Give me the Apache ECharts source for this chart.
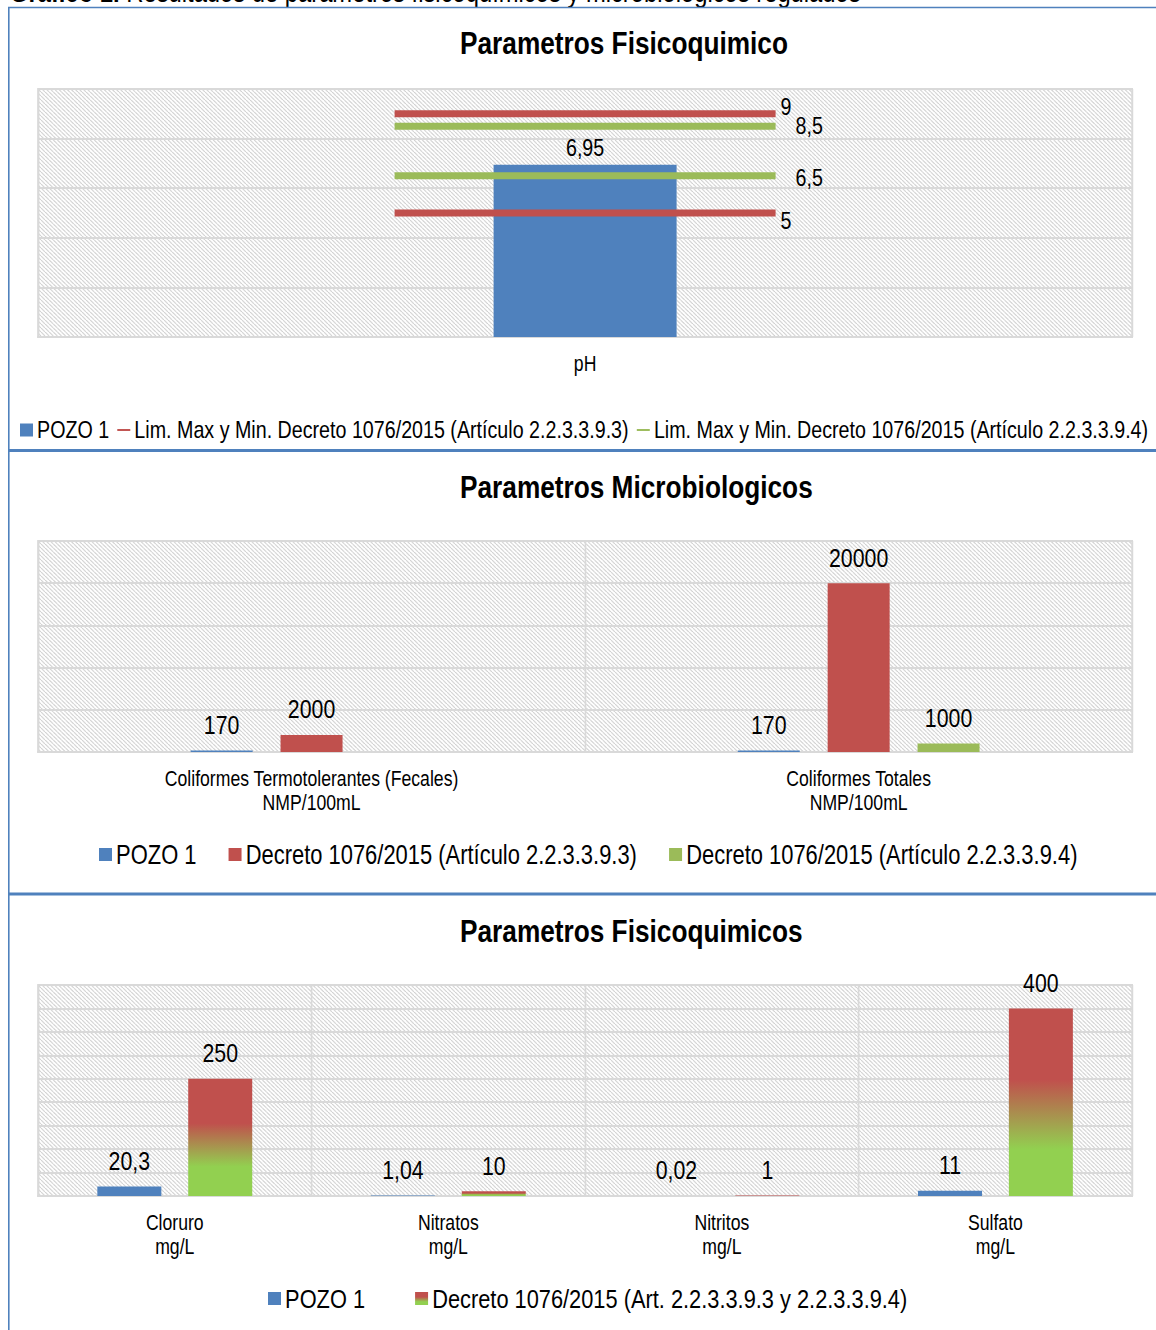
<!DOCTYPE html>
<html>
<head>
<meta charset="utf-8">
<script src="https://cdn.jsdelivr.net/npm/echarts@6/dist/echarts.min.js"></script>
<style>
  html, body { margin: 0; padding: 0; background: #fff; overflow: hidden; }
  #page { width: 1156px; height: 1330px; overflow: hidden; position: relative; }
  /* the chart is laid out wide and squeezed horizontally so that the text reads as a narrow face */
  #chart { position: absolute; left: 0; top: 0; height: 1330px; transform-origin: 0 0; }
</style>
</head>
<body>
<div id="page"><div id="chart"></div></div>
<script>
// ---- pH ----
const phCategories = ['pH'];
const phPozo = [6.95];
const phLim933 = [9, 5];      // máximo y mínimo
const phLim934 = [8.5, 6.5];  // máximo y mínimo

// ---- Microbiológicos ----
const microCategories = ['Coliformes Termotolerantes (Fecales)\nNMP/100mL', 'Coliformes Totales\nNMP/100mL'];
const microPozo = [170, 170];
const microDec933 = [2000, 20000];
const microDec934 = [null, 1000];

// ---- Fisicoquímicos ----
const fqCategories = ['Cloruro\nmg/L', 'Nitratos\nmg/L', 'Nitritos\nmg/L', 'Sulfato\nmg/L'];
const fqPozo = [20.3, 1.04, 0.02, 11];
const fqDecreto = [250, 10, 1, 400];

const N_POZO = 'POZO 1';
const N_LIM3 = 'Lim. Max y Min. Decreto 1076/2015 (Artículo 2.2.3.3.9.3)';
const N_LIM4 = 'Lim. Max y Min. Decreto 1076/2015 (Artículo 2.2.3.3.9.4)';
const N_DEC3 = 'Decreto 1076/2015 (Artículo 2.2.3.3.9.3)';
const N_DEC4 = 'Decreto 1076/2015 (Artículo 2.2.3.3.9.4)';
const N_DEC = 'Decreto 1076/2015 (Art. 2.2.3.3.9.3 y 2.2.3.3.9.4)';

// horizontal squeeze applied to the whole drawing
const SX = 0.82;
const W = 1156, H = 1330;
const px = x => x / SX;   // page x -> chart x

const chartEl = document.getElementById('chart');
chartEl.style.width = px(W) + 'px';
chartEl.style.transform = 'scaleX(' + SX + ')';

const FONT = "'Liberation Sans Narrow', 'Arial Narrow', 'Liberation Sans', Arial, sans-serif";
const BLUE = '#4F81BD', RED = '#C0504D', GREEN = '#9BBB59';
const GRIDLINE = '#d9d9d9';
const FRAME = '#4F81BD';

// diagonal hatch used as plot background
function hatch() {
  const c = document.createElement('canvas');
  c.width = 5; c.height = 4;
  const g = c.getContext('2d');
  g.fillStyle = '#ffffff'; g.fillRect(0, 0, 5, 4);
  g.strokeStyle = '#d0d0d0';
  g.lineWidth = 1.2;
  for (let k = -1; k <= 1; k++) {
    g.beginPath(); g.moveTo(k * 5, 0); g.lineTo(k * 5 + 5, 4); g.stroke();
  }
  return { image: c.toDataURL(), repeat: 'repeat' };
}
const HATCH = hatch();

const decGradient = new echarts.graphic.LinearGradient(0, 0, 0, 1, [
  { offset: 0, color: '#C0504D' },
  { offset: 0.38, color: '#C0504D' },
  { offset: 0.75, color: '#92D050' },
  { offset: 1, color: '#92D050' }
]);

const comma = v => String(v).replace('.', ',');
const DASH = 'path://M0,0 L14,0 L14,1.7 L0,1.7 Z';

function grid(top, height) {
  return { left: px(38), right: px(24), top: top, height: height, show: true,
           backgroundColor: HATCH, borderColor: GRIDLINE, borderWidth: 2 };
}
function xAxis(idx, data) {
  return {
    type: 'category', gridIndex: idx, data: data,
    axisTick: { show: false },
    axisLine: { lineStyle: { color: GRIDLINE, width: 2 } },
    axisLabel: { color: '#000', fontFamily: FONT, fontSize: 21.5, margin: 14, lineHeight: 24 },
    splitLine: { show: true, lineStyle: { color: GRIDLINE, width: 2 } }
  };
}
function yAxis(idx, max, interval) {
  return {
    type: 'value', gridIndex: idx, min: 0, max: max, interval: interval,
    axisLabel: { show: false }, axisLine: { show: false }, axisTick: { show: false },
    splitLine: { lineStyle: { color: GRIDLINE, width: 2 } }
  };
}
function barLabel(size, dist) {
  return { show: true, position: 'top', distance: dist, color: '#000', fontFamily: FONT, fontSize: size,
           formatter: p => comma(p.value) };
}
function limitSeries(name, values, color, offsets) {
  return {
    type: 'scatter', name: name, xAxisIndex: 0, yAxisIndex: 0, z: 5,
    symbol: 'rect', symbolSize: [px(381), 7],
    itemStyle: { color: color, opacity: 1 },
    data: values.map((v, i) => ({ value: [phCategories[0], v], label: { offset: offsets[i] } })),
    label: { show: true, position: 'right', distance: px(5), color: '#000', fontFamily: FONT, fontSize: 24,
             formatter: p => comma(p.value[1]) },
    emphasis: { disabled: true }
  };
}

const option = {
  animation: false,
  title: [
    { text: 'Parametros Fisicoquimico', left: px(460), top: 27 },
    { text: 'Parametros Microbiologicos', left: px(460), top: 471 },
    { text: 'Parametros Fisicoquimicos', left: px(460), top: 915 }
  ].map(t => Object.assign(t, { padding: 0,
    textStyle: { fontFamily: FONT, fontSize: 32, fontWeight: 'bold', color: '#000' } })),
  legend: [
    { left: px(20), top: 418, itemGap: px(8), textStyle: { fontSize: 24 },
      data: [{ name: N_POZO, icon: 'rect' }, { name: N_LIM3, icon: DASH }, { name: N_LIM4, icon: DASH }] },
    { left: px(99), top: 841, itemGap: px(32), textStyle: { fontSize: 26.75 },
      data: [{ name: N_POZO, icon: 'rect' }, { name: N_DEC3, icon: 'rect' }, { name: N_DEC4, icon: 'rect' }] },
    { left: px(268), top: 1285, itemGap: px(50), textStyle: { fontSize: 26.6 },
      data: [{ name: N_POZO, icon: 'rect' }, { name: N_DEC, icon: 'rect' }] }
  ].map(l => Object.assign(l, { padding: 0, itemWidth: px(13), itemHeight: 13, selectedMode: false,
    textStyle: Object.assign({ fontFamily: FONT, color: '#000' }, l.textStyle) })),
  grid: [grid(89, 248), grid(541, 211), grid(985, 211)],
  xAxis: [xAxis(0, phCategories), xAxis(1, microCategories), xAxis(2, fqCategories)],
  yAxis: [yAxis(0, 10, 2), yAxis(1, 25000, 5000), yAxis(2, 450, 50)],
  series: [
    { type: 'bar', name: N_POZO, xAxisIndex: 0, yAxisIndex: 0, barWidth: px(183),
      itemStyle: { color: BLUE }, data: phPozo, label: barLabel(24, 5) },
    limitSeries(N_LIM3, phLim933, RED, [[0, -7], [0, 8]]),
    limitSeries(N_LIM4, phLim934, GREEN, [[px(15), 0], [px(15), 2]]),

    { type: 'bar', name: N_POZO, xAxisIndex: 1, yAxisIndex: 1, barWidth: px(62), barGap: '45%',
      itemStyle: { color: BLUE }, data: microPozo, label: barLabel(26, 13) },
    { type: 'bar', name: N_DEC3, xAxisIndex: 1, yAxisIndex: 1, barWidth: px(62), barGap: '45%',
      itemStyle: { color: RED }, data: microDec933, label: barLabel(26, 13) },
    { type: 'bar', name: N_DEC4, xAxisIndex: 1, yAxisIndex: 1, barWidth: px(62), barGap: '45%',
      itemStyle: { color: GREEN }, data: microDec934, label: barLabel(26, 13) },

    { type: 'bar', name: N_POZO, xAxisIndex: 2, yAxisIndex: 2, barWidth: px(64), barGap: '42%',
      itemStyle: { color: BLUE }, data: fqPozo, label: barLabel(26, 13) },
    { type: 'bar', name: N_DEC, xAxisIndex: 2, yAxisIndex: 2, barWidth: px(64), barGap: '42%',
      itemStyle: { color: decGradient }, data: fqDecreto, label: barLabel(26, 13) }
  ],
  graphic: [
    { type: 'text', left: px(10), top: -22, silent: true,
      style: { text: '{b|Gráfico 1.} Resultados de parámetros fisicoquímicos y microbiológicos regulados',
               font: "29px " + FONT, fill: '#000',
               rich: { b: { fontWeight: 'bold', fontFamily: FONT, fontSize: 29 } } } },
    { type: 'line', silent: true, shape: { x1: px(8), y1: 7.5, x2: px(W), y2: 7.5 }, style: { stroke: FRAME, lineWidth: 1.5 } },
    { type: 'line', silent: true, shape: { x1: px(8.8), y1: 7, x2: px(8.8), y2: H }, style: { stroke: FRAME, lineWidth: px(1.6) } },
    { type: 'line', silent: true, shape: { x1: px(8), y1: 450.5, x2: px(W), y2: 450.5 }, style: { stroke: FRAME, lineWidth: 3 } },
    { type: 'line', silent: true, shape: { x1: px(8), y1: 894, x2: px(W), y2: 894 }, style: { stroke: FRAME, lineWidth: 3 } }
  ]
};

const chart = echarts.init(chartEl, null, { renderer: 'svg' });
chart.setOption(option);
</script>
</body>
</html>
